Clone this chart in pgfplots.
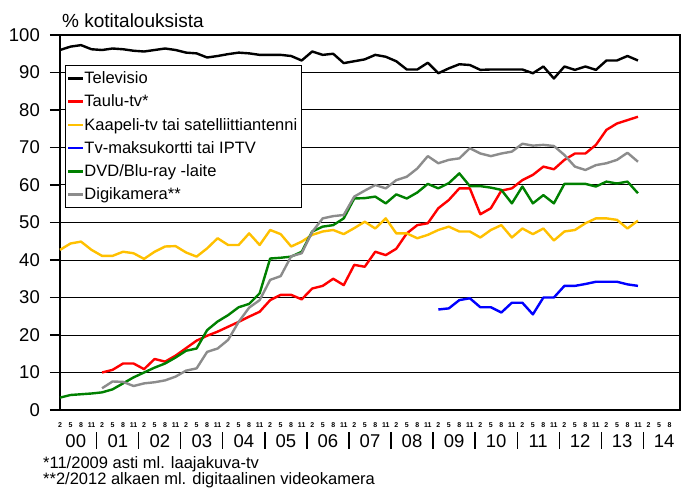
\documentclass[border=0pt]{standalone}
\usepackage{fontspec}
\setmainfont{Liberation Sans}
\usepackage{pgfplots}
\pgfplotsset{compat=1.18}
\definecolor{cyellow}{RGB}{255,192,0}
\definecolor{cgreen}{RGB}{0,128,0}
\definecolor{cgray}{RGB}{140,140,140}
\begin{document}
\begin{tikzpicture}
\begin{axis}[
  at={(0pt,0pt)}, anchor=origin,
  scale only axis, width=620pt, height=375pt,
  xmin=0, xmax=59, ymin=0, ymax=100,
  clip=false,
  axis line style={line width=1.2pt},
  ytick={0,10,...,100},
  ymajorgrids, major grid style={line width=1pt, black},
  tick align=outside, major tick length=10pt,
  ytick pos=left,
  tick style={line width=1.2pt, black},
  xtick={0,...,59},
  xtick style={draw=none},
  xticklabels={2,5,8,11,2,5,8,11,2,5,8,11,2,5,8,11,2,5,8,11,2,5,8,11,2,5,8,11,2,5,8,11,2,5,8,11,2,5,8,11,2,5,8,11,2,5,8,11,2,5,8,11,2,5,8,11,2,5,8,{}},
  xticklabel style={font=\fontsize{7}{8}\selectfont\bfseries, anchor=base, yshift=-7pt, inner sep=0pt},
  yticklabel style={font=\fontsize{18.5}{20}\selectfont, inner sep=0pt, xshift=-10pt},
  /pgf/number format/assume math mode=true,
  every axis plot/.append style={line width=2.4pt, line join=round},
  legend cell align=left,
  legend style={at={(0.008,0.92)}, anchor=north west, draw=black, fill=white, line width=1pt,
    font=\fontsize{16.5}{18}\selectfont, inner xsep=3pt, inner ysep=3pt, row sep=3.8pt,
    nodes={inner sep=1pt, text height=14pt, text depth=3.5pt}},
  legend image code/.code={\fill[#1, draw=none] (0pt,-1.3pt) rectangle (15pt,1.3pt);},
]
\addplot[black] coordinates {
(0,96.0)(1,96.9)(2,97.3)(3,96.2)(4,96.0)(5,96.4)(6,96.2)(7,95.8)(8,95.6)(9,96.0)
(10,96.4)(11,96.0)(12,95.3)(13,95.1)(14,94.0)(15,94.4)(16,94.9)(17,95.3)(18,95.1)(19,94.7)
(20,94.7)(21,94.7)(22,94.4)(23,93.2)(24,95.6)(25,94.7)(26,95.0)(27,92.5)(28,93.0)(29,93.5)
(30,94.7)(31,94.2)(32,93.0)(33,90.8)(34,90.8)(35,92.6)(36,89.8)(37,91.1)(38,92.2)(39,92.0)
(40,90.7)(41,90.8)(42,90.8)(43,90.8)(44,90.8)(45,89.8)(46,91.6)(47,88.4)(48,91.6)(49,90.7)
(50,91.6)(51,90.7)(52,93.2)(53,93.2)(54,94.4)(55,93.2)};
\addlegendentry{Televisio}
\addplot[red] coordinates {
(4,10.0)(5,10.7)(6,12.4)(7,12.4)(8,10.9)(9,13.6)
(10,12.9)(11,14.5)(12,16.5)(13,18.5)(14,19.8)(15,20.9)(16,22.2)(17,23.5)(18,24.9)(19,26.2)
(20,29.3)(21,30.7)(22,30.7)(23,29.5)(24,32.4)(25,33.1)(26,35.0)(27,33.3)(28,38.7)(29,38.2)
(30,42.2)(31,41.3)(32,43.0)(33,47.1)(34,49.3)(35,49.8)(36,53.8)(37,56.0)(38,59.1)(39,59.1)
(40,52.2)(41,53.8)(42,58.5)(43,59.1)(44,61.3)(45,62.7)(46,64.9)(47,64.2)(48,66.7)(49,68.4)
(50,68.4)(51,70.7)(52,74.7)(53,76.4)(54,77.3)(55,78.2)};
\addlegendentry{Taulu-tv*}
\addplot[cyellow] coordinates {
(0,42.7)(1,44.4)(2,44.9)(3,42.7)(4,41.1)(5,41.1)(6,42.2)(7,41.8)(8,40.3)(9,42.2)
(10,43.6)(11,43.7)(12,42.0)(13,40.9)(14,43.1)(15,45.8)(16,44.0)(17,44.0)(18,47.1)(19,44.0)
(20,48.0)(21,46.9)(22,43.6)(23,44.9)(24,46.7)(25,47.6)(26,48.0)(27,46.9)(28,48.5)(29,50.2)
(30,48.4)(31,51.1)(32,47.1)(33,47.1)(34,45.8)(35,46.7)(36,48.0)(37,48.9)(38,47.6)(39,47.6)
(40,46.0)(41,48.0)(42,49.3)(43,46.0)(44,48.4)(45,46.9)(46,48.4)(47,45.2)(48,47.6)(49,48.0)
(50,49.8)(51,51.1)(52,51.1)(53,50.7)(54,48.4)(55,50.5)};
\addlegendentry{Kaapeli-tv tai satelliittiantenni}
\addplot[blue] coordinates {
(36,26.8)(37,27.1)(38,29.3)(39,29.8)(40,27.4)(41,27.4)(42,26.0)(43,28.6)(44,28.6)(45,25.5)
(46,30.0)(47,30.0)(48,33.1)(49,33.1)(50,33.6)(51,34.2)(52,34.2)(53,34.2)(54,33.5)(55,33.1)};
\addlegendentry{Tv-maksukortti tai IPTV}
\addplot[cgreen] coordinates {
(0,3.3)(1,4.0)(2,4.2)(3,4.4)(4,4.7)(5,5.5)(6,7.1)(7,8.7)(8,10.0)(9,11.3)
(10,12.4)(11,14.0)(12,15.8)(13,16.4)(14,21.3)(15,23.6)(16,25.3)(17,27.4)(18,28.3)(19,31.1)
(20,40.4)(21,40.6)(22,40.9)(23,42.2)(24,47.6)(25,48.9)(26,49.3)(27,51.1)(28,56.4)(29,56.5)
(30,56.9)(31,55.1)(32,57.5)(33,56.4)(34,58.0)(35,60.3)(36,59.1)(37,60.5)(38,63.1)(39,59.7)
(40,59.7)(41,59.3)(42,58.7)(43,55.1)(44,59.6)(45,55.1)(46,57.3)(47,55.1)(48,60.3)(49,60.3)
(50,60.3)(51,59.6)(52,60.9)(53,60.4)(54,60.9)(55,57.8)};
\addlegendentry{DVD/Blu-ray -laite}
\addplot[cgray] coordinates {
(4,5.8)(5,7.6)(6,7.5)(7,6.4)(8,7.1)(9,7.4)
(10,7.9)(11,8.9)(12,10.5)(13,11.1)(14,15.5)(15,16.4)(16,18.7)(17,23.5)(18,27.3)(19,29.3)
(20,34.7)(21,35.7)(22,41.0)(23,41.8)(24,47.5)(25,51.1)(26,51.7)(27,52.0)(28,56.9)(29,58.5)
(30,60.0)(31,59.1)(32,61.3)(33,62.2)(34,64.4)(35,67.7)(36,65.8)(37,66.7)(38,67.1)(39,69.8)
(40,68.4)(41,67.7)(42,68.4)(43,68.9)(44,71.0)(45,70.5)(46,70.7)(47,70.4)(48,68.0)(49,64.9)
(50,64.0)(51,65.3)(52,65.8)(53,66.7)(54,68.6)(55,66.2)};
\addlegendentry{Digikamera**}
\pgfplotsinvokeforeach{0,...,14}{
  \node[font=\fontsize{18.5}{20}\selectfont, anchor=base, inner sep=0pt, yshift=-37pt] at (axis cs:4*#1+1.5,0) {\ifnum#1<10 0\fi#1};
}
\pgfplotsinvokeforeach{0,...,13}{
  \draw[line width=1.2pt] (axis cs:4*#1+3.5,0) ++(0pt,-22pt) -- ++(0pt,-17pt);
}
\end{axis}
\node[anchor=base west, inner sep=0pt, font=\fontsize{19}{21}\selectfont] at (2pt,382pt) {\% kotitalouksista};
\node[anchor=base west, inner sep=0pt, font=\fontsize{16.5}{18}\selectfont] at (-17pt,-58pt) {*11/2009 asti ml. laajakuva-tv};
\node[anchor=base west, inner sep=0pt, font=\fontsize{16.5}{18}\selectfont] at (-17pt,-74pt) {**2/2012 alkaen ml. digitaalinen videokamera};
\pgfresetboundingbox
\path[use as bounding box] (-60pt,-80pt) rectangle (622pt,410pt);
\end{tikzpicture}
\end{document}
